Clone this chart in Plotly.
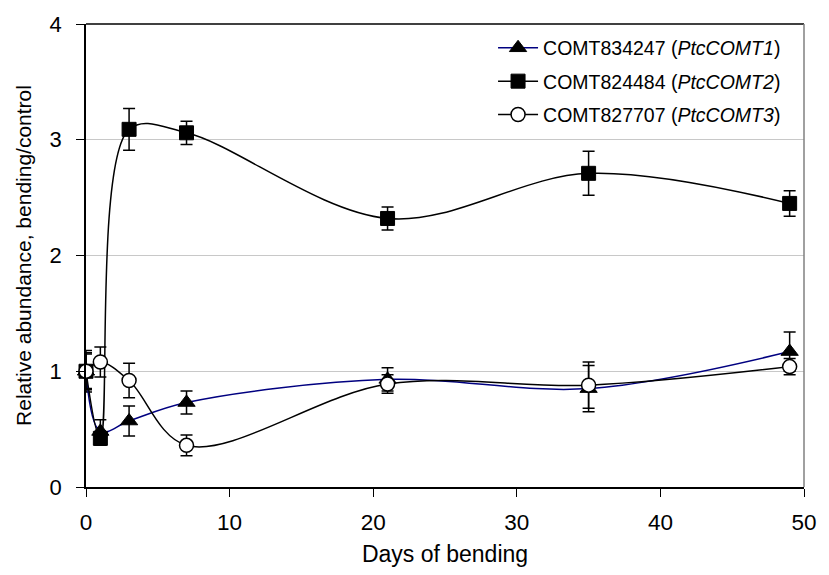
import plotly.graph_objects as go

# Sampling days
days = [0, 1, 3, 7, 21, 35, 49]

# Relative abundance (bending/control) with error bars
comt1 = [1.00, 0.48, 0.57, 0.73, 0.93, 0.85, 1.17]
comt1_err = [0.18, 0.10, 0.13, 0.10, 0.10, 0.20, 0.17]

comt2 = [1.00, 0.42, 3.09, 3.06, 2.32, 2.71, 2.45]
comt2_err = [0.15, 0.06, 0.18, 0.10, 0.10, 0.19, 0.11]

comt3 = [1.00, 1.08, 0.92, 0.36, 0.89, 0.88, 1.04]
comt3_err = [0.16, 0.13, 0.15, 0.09, 0.08, 0.20, 0.07]

series_names = [
    "COMT834247 (<i>PtcCOMT1</i>)",
    "COMT824484 (<i>PtcCOMT2</i>)",
    "COMT827707 (<i>PtcCOMT3</i>)",
]

y_ticks = [0, 1, 2, 3, 4]
x_ticks = [0, 10, 20, 30, 40, 50]

FONT = "Liberation Sans, Arial, sans-serif"

fig = go.Figure()

styles = [
    (comt1, comt1_err, "#000080", dict(symbol="triangle-up", size=15, color="black",
                                       line=dict(color="black", width=1))),
    (comt2, comt2_err, "black", dict(symbol="square", size=14, color="black",
                                     line=dict(color="black", width=1))),
    (comt3, comt3_err, "black", dict(symbol="circle", size=14, color="white",
                                     line=dict(color="black", width=1.5))),
]

for i, (name, (vals, errs, lc, mk)) in enumerate(zip(series_names, styles)):
    fig.add_trace(go.Scatter(
        x=days, y=vals, name=name, mode="lines+markers",
        legendgroup=f"g{i}", cliponaxis=False,
        line=dict(color=lc, width=1.5, shape="spline", smoothing=1.0),
        marker=mk,
        error_y=dict(type="data", array=errs, visible=True, color="black",
                     thickness=1.5, width=6),
    ))

# Plot frame: black top edge, grey right edge
fig.add_shape(type="line", xref="paper", yref="paper", x0=0, x1=1, y0=1, y1=1,
              line=dict(color="black", width=1.5), layer="above")
fig.add_shape(type="line", xref="paper", yref="paper", x0=1, x1=1, y0=0, y1=1,
              line=dict(color="#808080", width=1.5), layer="above")

fig.update_layout(
    width=829, height=575,
    margin=dict(l=86, r=16, t=18, b=88),
    paper_bgcolor="white", plot_bgcolor="white",
    font=dict(family=FONT, color="black", size=20),
    showlegend=True,
    legend=dict(
        x=0.975, y=0.99, xanchor="right", yanchor="top",
        bgcolor="rgba(0,0,0,0)", borderwidth=0,
        font=dict(size=19.5, family=FONT),
        itemwidth=40, traceorder="grouped", tracegroupgap=5,
    ),
    xaxis=dict(
        range=[0, 50], tickvals=x_ticks, ticks="outside", ticklen=8,
        tickcolor="black", showline=True, linecolor="black", linewidth=1.5,
        showgrid=False, zeroline=False, tickfont=dict(size=22.5),
        ticklabelstandoff=6,
        title=dict(text="Days of bending", font=dict(size=23), standoff=12),
    ),
    yaxis=dict(
        range=[0, 4], tickvals=y_ticks, ticks="outside", ticklen=8,
        tickcolor="black", showline=True, linecolor="black", linewidth=1.5,
        showgrid=True, gridcolor="#c8c8c8", gridwidth=1, zeroline=False,
        tickfont=dict(size=22), ticklabelstandoff=10,
        title=dict(text="Relative abundance, bending/control", font=dict(size=21), standoff=12),
    ),
)

fig.write_html("out.html")
